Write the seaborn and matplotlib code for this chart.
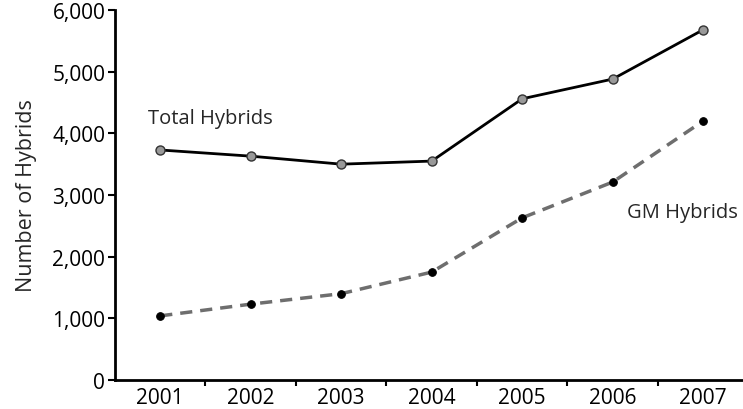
import matplotlib
matplotlib.use("Agg")
import matplotlib.pyplot as plt
import seaborn as sns
import pandas as pd
from matplotlib.ticker import FuncFormatter, FixedLocator

years = ["2001", "2002", "2003", "2004", "2005", "2006", "2007"]
total_hybrids = [3730, 3630, 3500, 3550, 4560, 4880, 5680]
gm_hybrids = [1040, 1230, 1400, 1750, 2630, 3210, 4200]

sns.set_theme(style="ticks")
plt.rcParams["font.family"] = ["Open Sans", "DejaVu Sans"]

df = pd.DataFrame({"year": years, "Total Hybrids": total_hybrids, "GM Hybrids": gm_hybrids})

fig = plt.figure(figsize=(7.43, 4.10), dpi=100)
ax = fig.add_axes([115 / 743, 29 / 410, 628 / 743, 370 / 410])

sns.lineplot(data=df, x="year", y="Total Hybrids", ax=ax, color="black", lw=2,
             marker="o", markersize=6.5, markerfacecolor="#999999",
             markeredgecolor="#333333", markeredgewidth=1)
sns.lineplot(data=df, x="year", y="GM Hybrids", ax=ax, color="#6e6e6e", lw=2.5,
             linestyle=(0, (3.5, 2.3)), marker="o", markersize=5.5,
             markerfacecolor="black", markeredgecolor="black")

ax.set_xlim(-0.5, 6.44)
ax.set_ylim(0, 6000)
ax.set_yticks(range(0, 6001, 1000))
ax.yaxis.set_major_formatter(FuncFormatter(lambda v, p: f"{int(v):,}"))
ax.xaxis.set_minor_locator(FixedLocator([i + 0.5 for i in range(6)]))
ax.tick_params(axis="x", which="major", length=0, labelsize=15, pad=5, colors="black")
ax.tick_params(axis="x", which="minor", length=4, width=1.5, color="black")
ax.tick_params(axis="y", length=5, width=1.5, labelsize=15, pad=2, colors="black")

ax.set_xlabel("")
ax.set_ylabel("Number of Hybrids", fontsize=15.5, labelpad=11)
sns.despine(ax=ax)
for s in ["left", "bottom"]:
    ax.spines[s].set_linewidth(2)
    ax.spines[s].set_color("black")

ax.text(-0.13, 4250, "Total Hybrids", fontsize=14.5, ha="left", va="center")
ax.text(5.16, 2720, "GM Hybrids", fontsize=14.5, ha="left", va="center")

fig.savefig("out.png", dpi=100)
